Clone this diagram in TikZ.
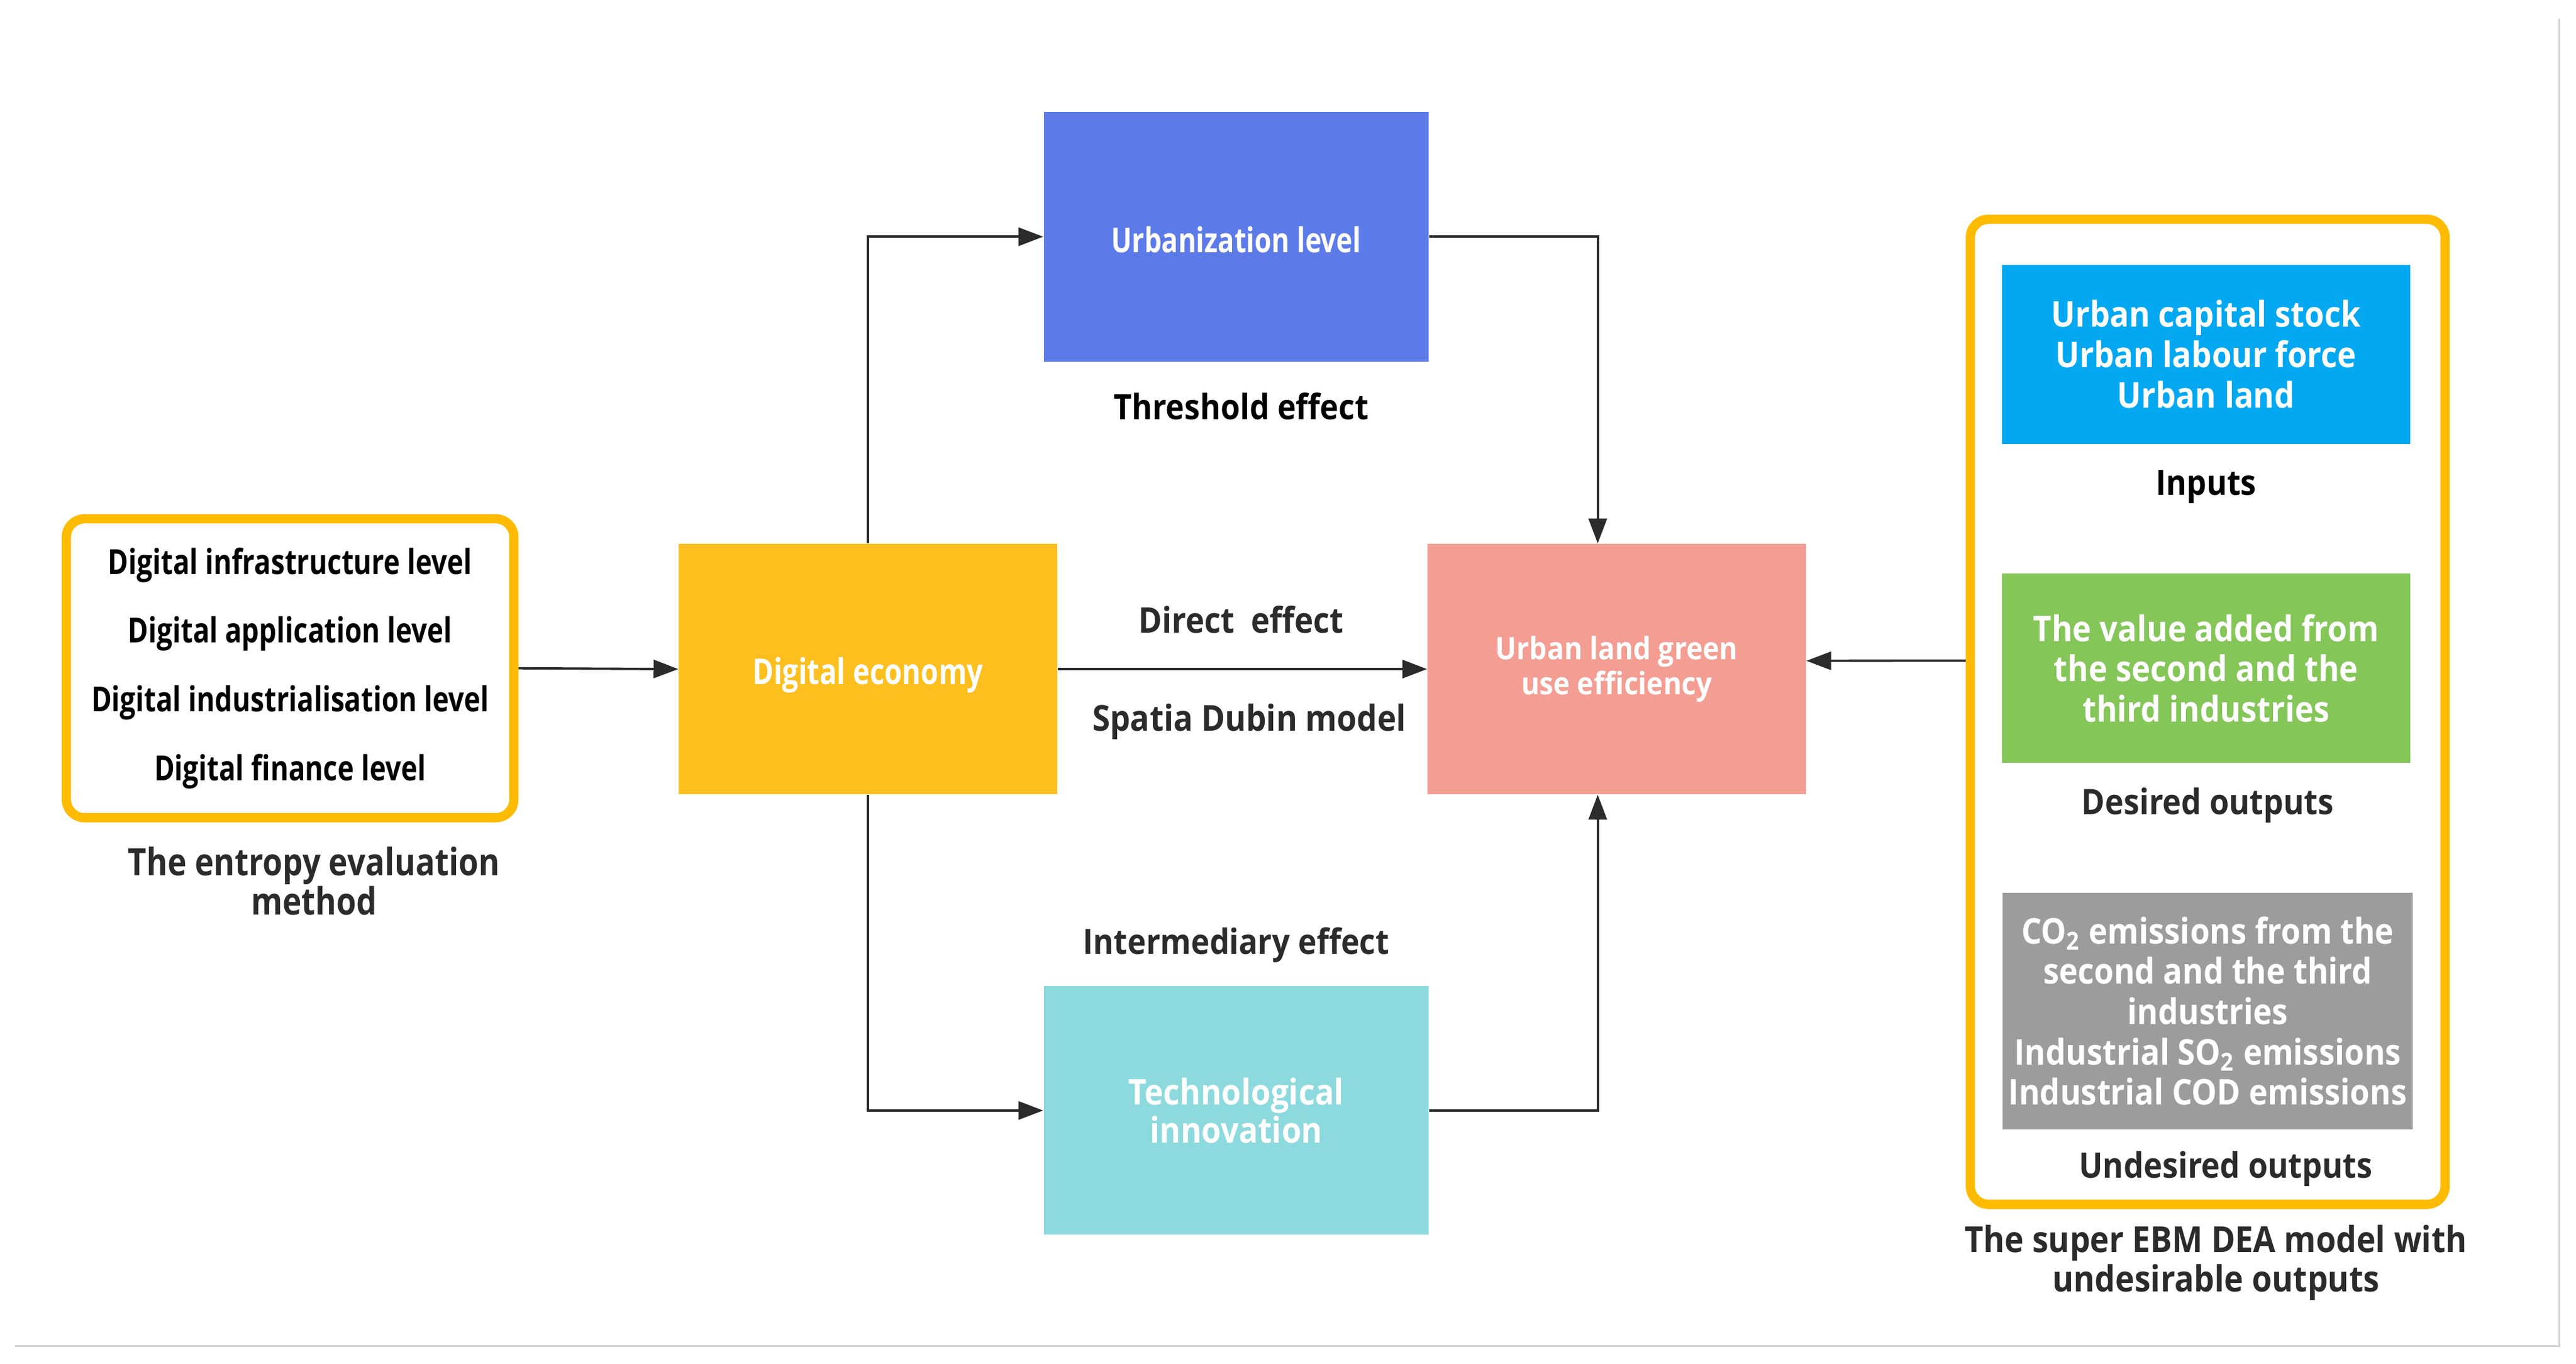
\documentclass[tikz,border=0pt]{standalone}
\usepackage{fontspec}
\setmainfont{Open Sans}
\newfontfamily\wideface[FakeStretch=0.9]{Open Sans}
\newfontfamily\midface[FakeStretch=0.85]{Open Sans}
\newfontfamily\narrowface[FakeStretch=0.8]{Open Sans}
\usepackage{xcolor}
\usetikzlibrary{arrows.meta,positioning}
\definecolor{frameyellow}{HTML}{FFBB00}
\definecolor{econgold}{HTML}{FDBF1E}
\definecolor{urbblue}{HTML}{5C7BE8}
\definecolor{techcyan}{HTML}{8DDADE}
\definecolor{landpink}{HTML}{F49D92}
\definecolor{inblue}{HTML}{03A8F1}
\definecolor{outgreen}{HTML}{84C658}
\definecolor{badgray}{HTML}{9C9C9C}
\definecolor{inkdark}{HTML}{2B2B2B}
\definecolor{linegray}{HTML}{D2D2D2}

\tikzset{
  colbox/.style={rectangle,inner sep=2pt,align=center,text=white,
    minimum width=4.58cm,minimum height=3.03cm},
  sidebox/.style={rectangle,inner sep=2pt,align=center,text=white,
    minimum width=4.95cm,font=\wideface\bfseries\fontsize{12.2}{13.9}\selectfont},
  yframe/.style={draw=frameyellow,line width=3.2pt,rounded corners=0.22cm,fill=white},
  lbl/.style={align=center,text=inkdark,font=\wideface\bfseries\fontsize{12.1}{13.6}\selectfont},
  arr/.style={draw=inkdark,line width=0.8pt,-{Triangle[length=0.3cm,width=0.22cm]}}
}

\begin{document}
\begin{tikzpicture}[x=0.9955cm,y=0.9955cm]
\useasboundingbox (0,0) rectangle (31.341,-16.594);
\draw [linegray,line width=0.6pt] (0.181,-16.374) -- (31.14,-16.374) -- (31.14,-0.231);
%%%%%%%%%%%%%%%%
\node[yframe,minimum width=5.42cm,minimum height=3.62cm,align=center,text=black,
  font=\narrowface\bfseries\fontsize{11.9}{23.7}\selectfont] (levels) at (3.53,-8.13)
{Digital infrastructure level\\Digital application level\\Digital industrialisation level\\Digital finance level};
\node[lbl,font=\midface\bfseries\fontsize{13}{13.6}\selectfont] (entropy) at (3.82,-10.72)
{The entropy evaluation\\method};
%%%%%%%%%%%%%%%%
\node[colbox,fill=econgold,text height=0.48cm,font=\narrowface\bfseries\fontsize{12.3}{13}\selectfont] (econ) at (10.56,-8.14) {Digital economy};
\node[colbox,fill=urbblue,minimum width=4.66cm,text height=0.38cm,font=\narrowface\bfseries\fontsize{11.8}{13}\selectfont] (urb) at (15.04,-2.88) {Urbanization level};
\node[colbox,fill=techcyan,minimum width=4.66cm,minimum height=3.01cm,font=\wideface\bfseries\fontsize{12.2}{13.2}\selectfont] (tech) at (15.04,-13.51) {Technological\\innovation};
\node[colbox,fill=landpink,font=\wideface\bfseries\fontsize{10.7}{11.9}\selectfont] (land) at (19.67,-8.14) {Urban land green\\use efficiency};
%%%%%%%%%%%%%%%%
\node[lbl,text=black,font=\wideface\bfseries\fontsize{12}{13.6}\selectfont] (thresh) at (15.10,-4.94) {Threshold effect};
\node[lbl,font=\wideface\bfseries\fontsize{12.2}{13.6}\selectfont] (direct) at (15.10,-7.54) {Direct~~effect};
\node[lbl,font=\wideface\bfseries\fontsize{12.3}{13.6}\selectfont] (sdm) at (15.20,-8.78) {Spatia Dubin model};
\node[lbl,font=\wideface\bfseries\fontsize{12}{13.6}\selectfont] (inter) at (15.04,-11.50) {Intermediary effect};
%%%%%%%%%%%%%%%%
\node[yframe,minimum width=5.75cm,minimum height=11.93cm] (dea) at (26.86,-8.66) {};
\node[sidebox,fill=inblue,minimum height=2.17cm] (inputs) at (26.84,-4.31)
{Urban capital stock\\Urban labour force\\Urban land};
\node[lbl,text=black,font=\wideface\bfseries\fontsize{12}{13.6}\selectfont] (inlbl) at (26.84,-5.92) {Inputs};
\node[sidebox,fill=outgreen,minimum height=2.29cm] (good) at (26.84,-8.13)
{The value added from\\the second and the\\third industries};
\node[lbl] (goodlbl) at (26.86,-9.80) {Desired outputs};
\node[sidebox,fill=badgray,minimum height=2.87cm] (bad) at (26.86,-12.30)
{CO\textsubscript{2} emissions from the\\second and the third\\industries\\Industrial SO\textsubscript{2} emissions\\Industrial COD emissions};
\node[lbl] (badlbl) at (27.08,-14.22) {Undesired outputs};
\node[lbl,font=\wideface\bfseries\fontsize{12.4}{13.6}\selectfont] (dealbl) at (26.96,-15.36)
{The super EBM DEA model with\\undesirable outputs};
%%%%%%%%%%%%%%%%
\draw [arr] (levels.east) -- (econ.west);
\draw [arr] (econ.north) |- (urb.west);
\draw [arr] (econ.south) |- (tech.west);
\draw [arr] (econ.east) -- (land.west);
\draw [arr] (urb.east) -| ([xshift=-0.23cm]land.north);
\draw [arr] (tech.east) -| ([xshift=-0.23cm]land.south);
\draw [arr] ([yshift=0.62cm]dea.west) -- ([yshift=0.1cm]land.east);
\end{tikzpicture}
\end{document}
